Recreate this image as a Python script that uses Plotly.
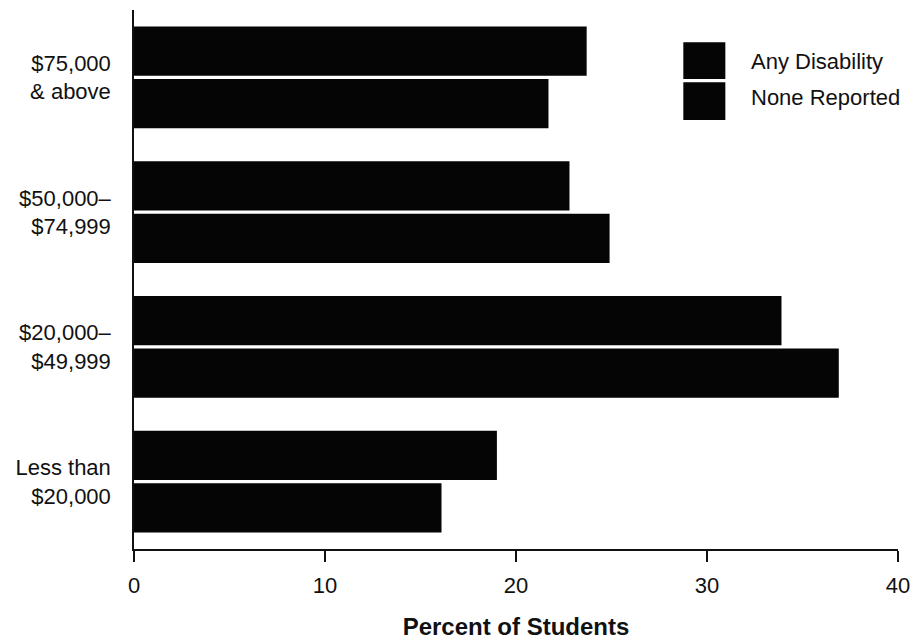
import plotly.graph_objects as go

categories = ["Less than<br>$20,000", "$20,000–<br>$49,999", "$50,000–<br>$74,999", "$75,000<br>& above"]
any_disability = [19.0, 33.9, 22.8, 23.7]
none_reported = [16.1, 36.9, 24.9, 21.7]
x_ticks = [0, 10, 20, 30, 40]
series_names = ["Any Disability", "None Reported"]

FONT = "Liberation Sans, Arial, Helvetica, sans-serif"
BAR = "#050505"

fig = go.Figure()
fig.add_trace(go.Bar(y=categories, x=none_reported, orientation="h", name=series_names[1],
                     marker=dict(color=BAR, line=dict(width=0)), showlegend=False))
fig.add_trace(go.Bar(y=categories, x=any_disability, orientation="h", name=series_names[0],
                     marker=dict(color=BAR, line=dict(width=0)), showlegend=False))

# manual legend (large squares like the original)
fig.add_shape(type="rect", xref="paper", yref="paper", x0=0.719, x1=0.774, y0=0.872, y1=0.940,
              fillcolor=BAR, line=dict(width=0))
fig.add_shape(type="rect", xref="paper", yref="paper", x0=0.719, x1=0.774, y0=0.796, y1=0.866,
              fillcolor=BAR, line=dict(width=0))
fig.add_annotation(xref="paper", yref="paper", x=0.805, y=0.904, text=series_names[0],
                   showarrow=False, xanchor="left", yanchor="middle",
                   font=dict(family=FONT, size=22, color="#111"))
fig.add_annotation(xref="paper", yref="paper", x=0.805, y=0.837, text=series_names[1],
                   showarrow=False, xanchor="left", yanchor="middle",
                   font=dict(family=FONT, size=22, color="#111"))

fig.update_layout(
    width=906, height=636,
    margin=dict(l=126, r=16, t=2, b=95, autoexpand=False),
    paper_bgcolor="white", plot_bgcolor="white",
    barmode="group", bargap=0.22, bargroupgap=0.06,
    font=dict(family=FONT, size=22, color="#111"),
    xaxis=dict(range=[0, 40], tickvals=x_ticks, ticks="outside", ticklen=11, tickwidth=1.5,
               tickcolor="#111", showline=True, linecolor="#111", linewidth=1.5,
               showgrid=False, zeroline=False, ticklabelstandoff=5, automargin=False,
               tickfont=dict(family=FONT, size=22),
               title=dict(text="<b>Percent of Students</b>", standoff=21,
                          font=dict(family=FONT, size=24))),
    yaxis=dict(range=[-0.5, 3.5], showline=True, linecolor="#111", linewidth=1.5,
               ticks="", showgrid=False, zeroline=False, ticklabelstandoff=17, automargin=False,
               tickfont=dict(family=FONT, size=22)),
)

fig.write_html("out.html")
